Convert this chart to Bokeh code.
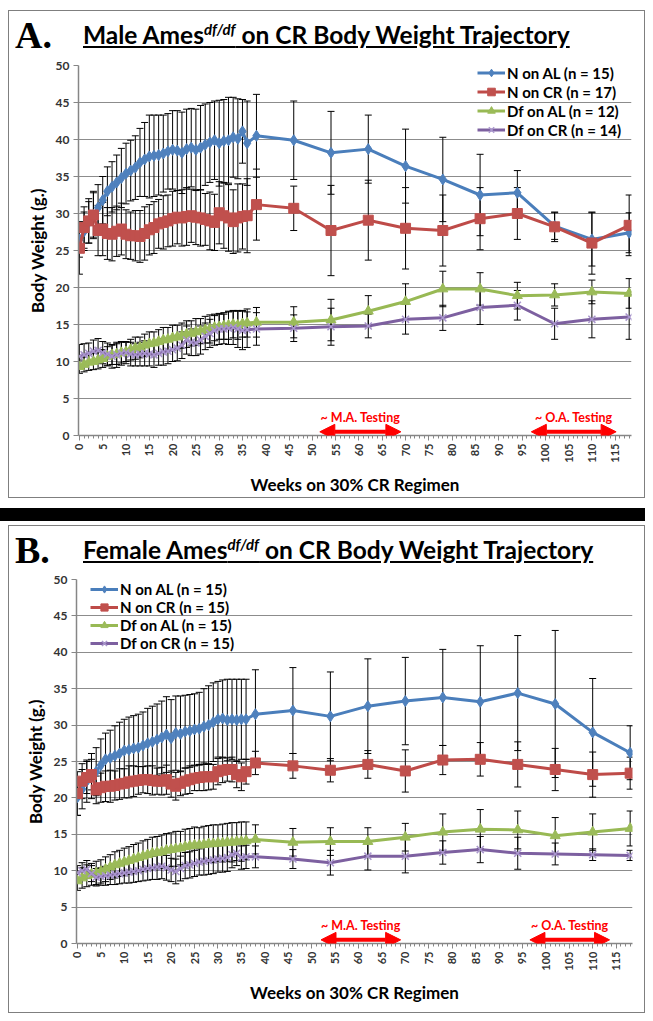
import math
from bokeh.plotting import figure
from bokeh.models import (ColumnDataSource, Whisker, TeeHead, Arrow, NormalHead, Label,
                          Range1d, SingleIntervalTicker, Legend, LegendItem, Div)
from bokeh.layouts import column
from bokeh.embed import file_html
from bokeh.resources import INLINE

# ---------------- data ----------------
weeks = list(range(0, 37)) + [38, 46, 54, 62, 70, 78, 86, 94, 102, 110, 118]

# Male
m_n_al = [26.5, 27.6, 28.8, 29.8, 30.8, 31.8, 33.0, 33.6, 34.2, 34.8,
          35.4, 35.8, 36.2, 36.9, 37.3, 37.7, 37.8, 37.9, 38.1, 38.4,
          38.6, 38.5, 38.2, 38.7, 38.9, 38.6, 38.9, 39.3, 39.6, 39.9,
          39.5, 39.8, 39.9, 40.3, 40.1, 41.1, 39.5,
          40.5, 39.9, 38.2, 38.7, 36.4, 34.6, 32.5, 32.8, 28.3, 26.5, 27.4]
m_n_al_sd = [2.4, 2.6, 2.8, 3.0, 3.1, 3.2, 3.3, 3.4, 3.7, 4.0,
             4.1, 4.1, 4.3, 4.6, 5.0, 5.6, 5.5, 5.4, 5.2, 5.1,
             5.3, 5.4, 5.5, 5.4, 5.3, 5.5, 5.7, 5.5, 5.4, 5.3,
             5.8, 5.6, 5.8, 5.4, 5.4, 4.3, 5.7,
             5.6, 5.3, 5.6, 4.6, 5.0, 5.7, 5.5, 3.0, 1.8, 3.6, 2.7]
m_n_cr = [25.3, 28.1, 29.0, 29.8, 27.7, 27.9, 27.3, 27.2, 27.6, 27.9,
          27.2, 27.0, 27.0, 26.9, 27.3, 27.8, 28.1, 28.6, 28.8, 29.0,
          29.3, 29.5, 29.4, 29.6, 29.7, 29.5, 29.4, 29.2, 29.0, 28.8,
          30.1, 29.7, 29.4, 28.9, 29.4, 29.6, 29.7,
          31.2, 30.7, 27.7, 29.1, 28.0, 27.7, 29.3, 30.0, 28.2, 26.0, 28.4]
m_n_cr_sd = [3.5, 2.8, 3.0, 3.2, 3.4, 3.6, 3.5, 3.6, 3.4, 3.5,
             3.3, 3.2, 3.4, 3.5, 3.6, 3.4, 3.5, 3.3, 3.6, 3.5,
             3.7, 3.6, 3.8, 3.9, 3.6, 3.7, 3.8, 3.5, 3.9, 3.8,
             4.2, 4.4, 4.5, 4.3, 4.6, 4.4, 5.0,
             4.8, 3.0, 6.1, 5.4, 5.5, 4.8, 4.2, 3.5, 2.0, 4.2, 4.1]
m_df_al = [9.3, 9.6, 9.9, 10.0, 10.2, 10.4, 10.7, 10.9, 11.0, 11.2,
           11.3, 11.6, 11.8, 11.9, 12.2, 12.4, 12.5, 12.7, 12.9, 13.0,
           13.2, 13.3, 13.5, 13.7, 13.8, 14.0, 14.1, 14.3, 14.4, 14.6,
           14.7, 14.8, 14.9, 15.0, 14.9, 15.1, 15.2,
           15.3, 15.3, 15.6, 16.8, 18.1, 19.8, 19.8, 18.9, 19.0, 19.4, 19.2]
m_df_al_sd = [0.9, 1.0, 1.1, 1.1, 1.2, 1.2, 1.3, 1.3, 1.4, 1.4,
              1.3, 1.4, 1.5, 1.4, 1.5, 1.6, 1.5, 1.6, 1.7, 1.6,
              1.7, 1.6, 1.7, 1.8, 1.7, 1.8, 1.7, 1.8, 1.9, 1.8,
              1.7, 1.8, 1.9, 1.8, 1.9, 1.8, 1.9,
              2.0, 2.1, 2.8, 2.1, 2.4, 2.4, 2.2, 1.8, 1.5, 1.6, 2.0]
m_df_cr = [10.7, 10.9, 11.1, 11.4, 11.5, 11.2, 11.0, 10.7, 10.9, 11.1,
           11.2, 11.0, 10.9, 11.0, 11.1, 11.0, 10.9, 11.1, 11.3, 11.4,
           11.6, 11.8, 12.2, 12.9, 12.6, 12.5, 12.9, 13.4, 13.8, 14.2,
           14.4, 14.4, 14.5, 14.6, 14.4, 14.2, 14.3,
           14.4, 14.5, 14.7, 14.8, 15.7, 15.9, 17.3, 17.6, 15.1, 15.7, 16.0]
m_df_cr_sd = [1.6, 1.5, 1.4, 1.5, 1.6, 1.5, 1.5, 1.6, 1.7, 1.6,
              1.5, 1.6, 1.5, 1.6, 1.7, 1.6, 1.7, 1.6, 1.8, 1.7,
              1.6, 1.7, 1.8, 1.9, 1.8, 1.7, 1.9, 1.8, 1.9, 2.0,
              2.1, 2.0, 2.2, 2.3, 2.5, 2.6, 2.4,
              2.2, 1.8, 2.5, 1.6, 2.0, 1.7, 2.3, 2.0, 2.1, 2.5, 3.0]

# Female
f_n_al = [20.1, 21.2, 22.3, 23.0, 23.6, 24.5, 25.3, 25.5, 25.8, 26.1,
          26.5, 26.6, 26.8, 26.9, 27.2, 27.5, 27.7, 28.0, 28.3, 28.7,
          28.2, 28.9, 28.8, 29.1, 29.2, 29.4, 29.5, 29.8, 30.0, 30.4,
          30.8, 30.9, 30.7, 30.8, 30.7, 30.8, 30.8,
          31.5, 32.0, 31.2, 32.6, 33.3, 33.8, 33.2, 34.4, 32.9, 29.0, 26.2]
f_n_al_sd = [2.5, 2.7, 2.9, 3.1, 3.3, 3.6, 3.6, 3.8, 4.1, 4.3,
             4.3, 4.5, 4.5, 4.6, 4.6, 4.8, 4.9, 4.9, 5.0, 5.2,
             5.3, 5.1, 5.2, 5.0, 5.0, 4.9, 5.0, 5.2, 5.4, 5.4,
             5.2, 5.3, 5.6, 5.5, 5.6, 5.5, 5.5,
             6.1, 5.9, 6.1, 6.5, 6.0, 6.6, 7.7, 7.9, 10.1, 7.4, 3.7]
f_n_cr = [20.6, 22.3, 22.8, 23.2, 21.1, 21.4, 21.6, 21.6, 21.7, 21.9,
          22.0, 22.2, 22.3, 22.4, 22.5, 22.5, 22.4, 22.3, 22.3, 22.5,
          21.9, 21.6, 22.0, 22.3, 22.5, 22.7, 22.8, 22.9, 22.9, 22.9,
          23.6, 23.8, 23.9, 23.9, 23.2, 22.9, 23.6,
          24.8, 24.4, 23.8, 24.6, 23.7, 25.2, 25.3, 24.6, 23.9, 23.2, 23.4]
f_n_cr_sd = [3.0, 2.4, 2.2, 2.1, 1.9, 2.0, 2.1, 2.2, 2.0, 2.1,
             2.0, 2.2, 2.1, 1.9, 1.8, 1.9, 2.0, 1.8, 1.9, 2.0,
             1.8, 1.9, 1.7, 1.8, 1.9, 1.7, 1.8, 1.9, 1.8, 1.7,
             1.8, 1.7, 1.6, 1.7, 1.8, 1.9, 1.7,
             1.6, 1.7, 1.6, 1.9, 2.9, 2.0, 2.3, 3.1, 2.9, 3.1, 2.2]
f_df_al = [8.6, 9.0, 9.3, 9.5, 9.7, 9.9, 10.2, 10.5, 10.8, 11.0,
           11.2, 11.4, 11.6, 11.8, 12.0, 12.2, 12.4, 12.5, 12.6, 12.8,
           12.9, 13.0, 13.1, 13.3, 13.4, 13.5, 13.5, 13.6, 13.7, 13.7,
           13.8, 13.8, 13.9, 13.9, 14.0, 14.0, 14.1,
           14.3, 13.9, 14.0, 14.0, 14.6, 15.3, 15.7, 15.6, 14.8, 15.3, 15.8]
f_df_al_sd = [1.3, 1.4, 1.5, 1.5, 1.6, 1.6, 1.7, 1.7, 1.8, 1.8,
              1.9, 1.9, 2.0, 2.0, 2.1, 2.1, 2.2, 2.2, 2.3, 2.3,
              2.3, 2.4, 2.3, 2.4, 2.4, 2.5, 2.4, 2.5, 2.5, 2.6,
              2.5, 2.6, 2.6, 2.7, 2.6, 2.7, 2.6,
              2.0, 1.9, 1.9, 1.9, 1.9, 2.5, 2.7, 2.6, 2.5, 2.5, 2.4]
f_df_cr = [9.7, 10.0, 10.2, 9.6, 9.1, 9.2, 9.3, 9.4, 9.5, 9.6,
           9.7, 9.8, 9.9, 10.0, 10.2, 10.3, 10.4, 10.5, 10.6, 10.4,
           10.1, 9.9, 10.3, 10.7, 10.8, 11.0, 11.2, 11.3, 11.4, 11.5,
           11.6, 11.7, 11.8, 12.2, 12.4, 11.8, 11.9,
           11.9, 11.6, 11.1, 12.0, 12.0, 12.5, 12.9, 12.4, 12.3, 12.2, 12.1]
f_df_cr_sd = [1.0, 1.1, 1.2, 1.1, 1.2, 1.2, 1.3, 1.3, 1.4, 1.4,
              1.4, 1.5, 1.5, 1.5, 1.6, 1.6, 1.6, 1.7, 1.7, 1.7,
              1.6, 1.7, 1.7, 1.8, 1.8, 1.8, 1.8, 1.9, 1.9, 1.9,
              1.8, 1.9, 1.9, 1.8, 1.7, 1.6, 1.6,
              1.5, 1.3, 1.7, 1.9, 2.3, 1.6, 1.8, 2.2, 1.5, 0.8, 0.7]

male_labels = ["N on AL (n = 15)", "N on CR (n = 17)", "Df on AL (n = 12)", "Df on CR (n = 14)"]
female_labels = ["N on AL (n = 15)", "N on CR (n = 15)", "Df on AL (n = 15)", "Df on CR (n = 15)"]

# testing windows (weeks) and their labels
male_ma = [51.6, 69.0]
male_oa = [97.0, 115.2]
female_ma = [52.0, 69.0]
female_oa = [96.6, 113.6]
ma_text = "~ M.A. Testing"
oa_text = "~ O.A. Testing"

x_label = "Weeks on 30% CR Regimen"
y_label = "Body Weight (g.)"

# ---------------- styling ----------------
LINE_COLORS = ["#4A7EBB", "#BE4B48", "#98B954", "#7D60A0"]
MARK_COLORS = ["#4F81BD", "#C0504D", "#9BBB59", "#A996CC"]
MARKERS = ["diamond", "square", "triangle", "x"]
MSIZES = [11, 10, 10, 10]
FONT = "Lato"


def title_div(letter, who):
    html = (
        '<div style="position:relative;width:635px;height:46px;">'
        '<span style="position:absolute;left:6px;top:5px;font-family:\'Liberation Serif\';'
        'font-weight:bold;font-size:38px;line-height:1;color:#000;">%s</span>'
        '<span style="position:absolute;left:74px;top:12px;font-family:Lato;font-weight:bold;'
        'font-size:24.5px;line-height:1;color:#000;text-decoration:underline;white-space:nowrap;">'
        '%s Ames<sup style="font-size:15px;font-style:italic;line-height:0;">df/df</sup>'
        ' on CR Body Weight Trajectory</span></div>' % (letter, who)
    )
    return Div(text=html, width=635, height=46, margin=0)


def make_fig(series, sds, labels, legend_xy, item_h, mb, ma, oa):
    left, right, top, bottom = mb
    p = figure(width=635, height=440, x_range=Range1d(-0.2, 118.5), y_range=Range1d(0, 50),
               output_backend="svg", toolbar_location=None,
               min_border_left=left, min_border_right=right,
               min_border_top=top, min_border_bottom=bottom,
               background_fill_color="white", border_fill_color="white")
    p.outline_line_color = None
    p.xgrid.visible = False
    p.ygrid.grid_line_color = "#8c8c8c"
    p.ygrid.grid_line_width = 1

    p.yaxis.ticker = SingleIntervalTicker(interval=5, num_minor_ticks=0)
    p.xaxis.ticker = SingleIntervalTicker(interval=5, num_minor_ticks=5)
    for ax in (p.xaxis, p.yaxis):
        ax.axis_line_color = "#868686"
        ax.axis_line_width = 1.5
        ax.major_tick_line_color = "#868686"
        ax.major_tick_in = 0
        ax.major_tick_out = 5
        ax.minor_tick_line_color = "#868686"
        ax.minor_tick_in = 0
        ax.minor_tick_out = 3
        ax.major_label_text_font = FONT
        ax.major_label_text_font_style = "bold"
        ax.major_label_text_color = "#333333"
        ax.axis_label_text_font = FONT
        ax.axis_label_text_font_style = "bold"
        ax.axis_label_text_font_size = "17px"
        ax.axis_label_text_color = "#000000"
    p.yaxis.major_label_text_font_size = "12px"
    p.xaxis.major_label_text_font_size = "11px"
    p.xaxis.major_label_orientation = math.pi / 2
    p.xaxis.major_label_standoff = 3
    p.yaxis.major_label_standoff = 4
    p.xaxis.axis_label = x_label
    p.yaxis.axis_label = y_label
    p.xaxis.axis_label_standoff = 8
    p.yaxis.axis_label_standoff = 5

    items = []
    for i in range(4):
        vals, sd = series[i], sds[i]
        src = ColumnDataSource(dict(
            x=weeks, y=vals,
            lo=[v - s for v, s in zip(vals, sd)],
            hi=[v + s for v, s in zip(vals, sd)]))
        w = Whisker(source=src, base="x", lower="lo", upper="hi", dimension="height",
                    line_color="black", line_width=1,
                    upper_head=TeeHead(size=7, line_color="black", line_width=1),
                    lower_head=TeeHead(size=7, line_color="black", line_width=1))
        p.add_layout(w)
        ln = p.line("x", "y", source=src, line_color=LINE_COLORS[i], line_width=3)
        if MARKERS[i] == "x":
            sc = p.scatter("x", "y", source=src, marker="x", size=MSIZES[i],
                           line_color=MARK_COLORS[i], line_width=1.5)
        else:
            sc = p.scatter("x", "y", source=src, marker=MARKERS[i], size=MSIZES[i],
                           fill_color=MARK_COLORS[i], line_color=MARK_COLORS[i])
        items.append(LegendItem(label=labels[i], renderers=[ln, sc]))

    leg = Legend(items=items, location=legend_xy, padding=0, spacing=0, margin=0,
                 glyph_width=28, glyph_height=item_h, label_height=item_h,
                 label_standoff=2, border_line_color=None, background_fill_alpha=0,
                 label_text_font=FONT, label_text_font_style="bold",
                 label_text_font_size="15px", label_text_color="#000000")
    p.add_layout(leg)

    for span, txt in ((ma, ma_text), (oa, oa_text)):
        p.add_layout(Arrow(x_start=span[0], y_start=0.5, x_end=span[1], y_end=0.5,
                           line_color="#FF0000", line_width=4,
                           start=NormalHead(size=15, fill_color="#FF0000", line_color="#FF0000"),
                           end=NormalHead(size=15, fill_color="#FF0000", line_color="#FF0000")))
        p.add_layout(Label(x=(span[0] + span[1]) / 2, y=2.5, text=txt,
                           text_align="center", text_baseline="middle",
                           text_color="#FF0000", text_font=FONT, text_font_style="bold",
                           text_font_size="12.5px"))
    return p


fig_a = make_fig([m_n_al, m_n_cr, m_df_al, m_df_cr],
                 [m_n_al_sd, m_n_cr_sd, m_df_al_sd, m_df_cr_sd],
                 male_labels, (399, 296), 19, (69, 13, 8, 59), male_ma, male_oa)
fig_b = make_fig([f_n_al, f_n_cr, f_df_al, f_df_cr],
                 [f_n_al_sd, f_n_cr_sd, f_df_al_sd, f_df_cr_sd],
                 female_labels, (14, 291), 18, (67, 12, 7, 69), female_ma, female_oa)

box_style = {"border": "1px solid #7f7f7f", "background-color": "white"}
panel_a = column(title_div("A.", "Male"), fig_a, spacing=0, margin=0, styles=box_style)
panel_b = column(title_div("B.", "Female"), fig_b, spacing=0, margin=0, styles=box_style)

gap1 = Div(text="", width=637, height=10, margin=0)
bar = Div(text="", width=653, height=13, margin=0,
          styles={"background-color": "black", "margin-left": "-8px"})
gap2 = Div(text="", width=637, height=4, margin=0)

root = column(panel_a, gap1, bar, gap2, panel_b, spacing=0, margin=(10, 8, 0, 8))

open("out.html", "w").write(file_html(root, INLINE))
